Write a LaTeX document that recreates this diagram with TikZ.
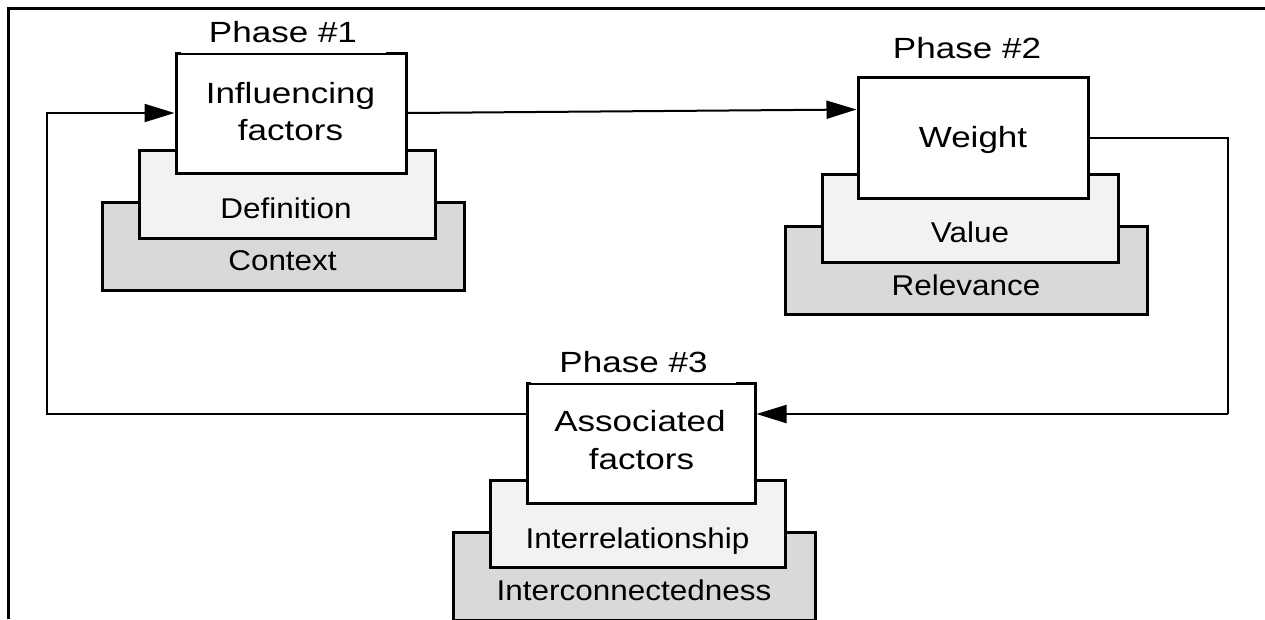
\documentclass[tikz,border=0pt]{standalone}
\usepackage{fontspec}
\setmainfont{Liberation Sans}[FakeStretch=1.2]
\newfontfamily\layerfont{Liberation Sans}[FakeStretch=1.1]
\usetikzlibrary{arrows.meta}

\definecolor{layerlight}{HTML}{F2F2F2}
\definecolor{layerdark}{HTML}{D9D9D9}

\tikzset{
  box/.style={draw=black, line width=3pt, rectangle, inner sep=0pt},
  mainbox/.style={box, fill=white, minimum width=230pt, minimum height=120pt},
  midbox/.style={box, fill=layerlight, minimum width=296pt, minimum height=88pt},
  basebox/.style={box, fill=layerdark, minimum width=362pt, minimum height=88pt},
  maintext/.style={anchor=base, inner sep=0pt, font=\fontsize{29.2}{37}\selectfont},
  layertext/.style={anchor=base, inner sep=0pt, font=\layerfont\fontsize{28.6}{34}\selectfont},
  phasetext/.style={maintext, fill=white, text depth=10.6pt, minimum width=205pt},
  link/.style={line width=2pt, -{Triangle[length=30pt,width=18pt]}},
  plain/.style={line width=2pt},
  frame/.style={line width=3pt}
}

\begin{document}
\begin{tikzpicture}[x=1pt, y=-1pt]
  \useasboundingbox (0,0) rectangle (1265,619);
  \clip (0,0) rectangle (1265,619);

  % outer frame (top and left edges)
  \coordinate (fb) at (8,619);
  \coordinate (fc) at (8,8);
  \coordinate (fr) at (1265,8);
  \draw[frame] (fb) -- (fc) -- (fr);

  % Phase 1 stack
  \node[basebox] (ctx) at (283,246) {};
  \node[midbox]  (def) at (287,194) {};
  \node[mainbox] (inf) at (291,113) {};
  \node[layertext] (ctxlbl) at (282.5,270) {Context};
  \node[layertext] (deflbl) at (286,218) {Definition};
  \node[maintext] (inflbl1) at (290.5,103) {Influencing};
  \node[maintext] (inflbl2) at (290.5,140) {factors};
  \node[phasetext] (ph1) at (283,42) {Phase \#1};

  % Phase 2 stack
  \node[basebox] (rel) at (966,270) {};
  \node[midbox]  (val) at (970,218) {};
  \node[mainbox, minimum height=121pt] (wgt) at (973,137.5) {};
  \node[layertext] (rellbl) at (966,295) {Relevance};
  \node[layertext] (vallbl) at (970,242) {Value};
  \node[maintext] (wgtlbl) at (973,147) {Weight};
  \node[maintext] (ph2) at (967,58) {Phase \#2};

  % Phase 3 stack
  \node[basebox] (icon) at (634,576) {};
  \node[midbox, minimum width=295pt, minimum height=87pt] (irel) at (637.5,523.5) {};
  \node[mainbox, minimum width=228pt] (asc) at (641,443) {};
  \node[layertext] (iconlbl) at (634,600) {Interconnectedness};
  \node[layertext] (irellbl) at (637.5,548) {Interrelationship};
  \node[maintext] (asclbl1) at (640,431.5) {Associated};
  \node[maintext] (asclbl2) at (641.5,469) {factors};
  \node[phasetext] (ph3) at (633.5,372) {Phase \#3};

  % connectors
  \coordinate (rc) at (1228,414);
  \coordinate (lc) at (47,414);
  \draw[link] (inf.east) -- ([yshift=28pt]wgt.west);
  \draw[plain] (wgt.east) -| (rc);
  \draw[link] (rc) -- ([yshift=29pt]asc.east);
  \draw[link] ([yshift=29pt]asc.west) -- (lc) |- (inf.west);
\end{tikzpicture}
\end{document}
